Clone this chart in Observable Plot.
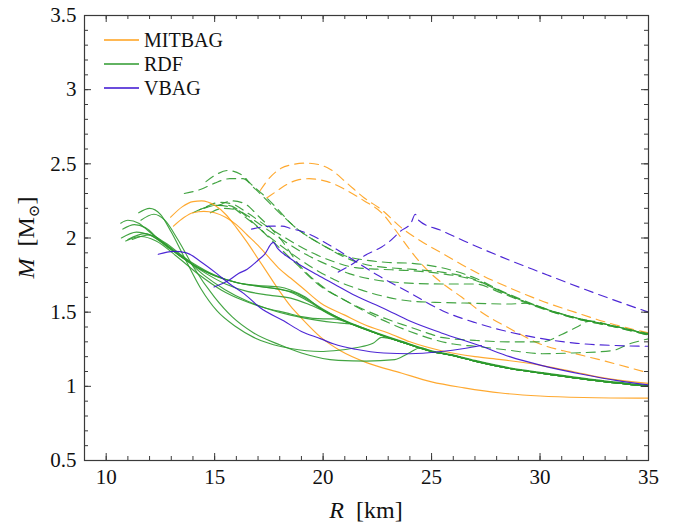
<!DOCTYPE html>
<html><head><meta charset="utf-8">
<script src="https://cdn.jsdelivr.net/npm/d3@7"></script>
<script src="https://cdn.jsdelivr.net/npm/@observablehq/plot@0.6"></script>
<style>
body{margin:0;background:#fff}
#chart{width:687px;height:524px}
#chart svg, #chart svg text, #chart svg g{font-family:"Liberation Serif","Times New Roman",Tinos,"Nimbus Roman","DejaVu Serif",serif !important}
</style>
</head><body><div id="chart"></div>
<script>
// ---------- data ([R km, M Msun]) ----------
const families = ["MITBAG", "RDF", "VBAG"];
const familyColors = ["#ffa01a", "#2e9a2e", "#3a10d0"];
const xMajorTicks = [10, 15, 20, 25, 30, 35];
const yMajorTicks = [0.5, 1, 1.5, 2, 2.5, 3, 3.5];
const xMinorTicks = [9,10,11,12,13,14,15,16,17,18,19,20,21,22,23,24,25,26,27,28,29,30,31,32,33,34,35];
const yMinorTicks = [0.5,0.6,0.7,0.8,0.9,1,1.1,1.2,1.3,1.4,1.5,1.6,1.7,1.8,1.9,2,2.1,2.2,2.3,2.4,2.5,2.6,2.7,2.8,2.9,3,3.1,3.2,3.3,3.4,3.5];

// MITBAG
const mitSolidA = [[12.97,2.14],[13.5,2.21],[14.0,2.245],[14.4,2.25],[15,2.22],[15.5,2.16],[16,2.07],[16.5,1.97],[17,1.86],[17.5,1.75],[18,1.64],[18.5,1.54],[19,1.46],[19.9,1.33],[20.8,1.24],[22,1.16],[23.6,1.09],[25,1.03],[26.5,0.99],[28.2,0.955],[30,0.935],[32,0.925],[35,0.92]];
const mitSolidB = [[13.1,2.08],[13.6,2.14],[14.0,2.17],[14.5,2.18],[15,2.17],[15.5,2.14],[16,2.09],[16.5,2.02],[17,1.95],[17.5,1.87],[18,1.79],[18.5,1.73],[19,1.67],[19.9,1.56],[21,1.48],[22,1.41],[23,1.36],[24,1.30],[25.45,1.24],[27,1.20],[28.2,1.18],[30.1,1.14],[31.5,1.10],[32.8,1.06],[35,1.02]];
const mitDashA = [[17.1,2.32],[17.5,2.40],[18.06,2.47],[18.6,2.495],[19.2,2.505],[19.8,2.495],[20.36,2.46],[21.1,2.37],[21.9,2.27],[22.7,2.19],[23.6,2.07],[24.5,1.98],[25.45,1.90],[26.4,1.82],[27.3,1.75],[28.5,1.67],[30,1.58],[31.6,1.50],[33.1,1.43],[35,1.36]];
const mitDashB = [[17.4,2.27],[17.9,2.32],[18.2,2.35],[18.8,2.39],[19.35,2.40],[20.2,2.38],[21.1,2.32],[21.9,2.25],[22.7,2.17],[23.3,2.06],[23.9,1.94],[24.5,1.83],[24.97,1.76],[25.45,1.70],[26.4,1.60],[27.3,1.50],[28.6,1.39],[30.1,1.28],[31.5,1.225],[33,1.17],[35,1.09]];

// RDF solid
const rdfSolid1 = [[11.5,2.17],[12.0,2.20],[12.5,2.16],[13.0,2.04],[13.6,1.87],[14.36,1.66],[15.1,1.51],[16,1.40],[16.8,1.33],[17.5,1.29],[18.5,1.255],[19.9,1.235],[20.5,1.24],[21.5,1.26],[22.3,1.29],[22.7,1.33],[23.6,1.30],[25,1.235],[25.9,1.21],[27,1.17],[28.6,1.12],[30,1.09],[32.5,1.04],[35,1.00]];
const rdfSolid2 = [[11.6,2.12],[12.2,2.16],[12.7,2.12],[13.3,1.99],[14,1.81],[15,1.60],[15.8,1.47],[16.8,1.36],[18,1.28],[19,1.225],[20.7,1.175],[22,1.17],[23.3,1.18],[23.9,1.22],[24.5,1.26],[25,1.235],[25.9,1.21],[27,1.17],[28.6,1.12],[30,1.09],[32.5,1.04],[35,1.00]];
const rdfSolid3 = [[10.67,2.10],[11.0,2.12],[11.5,2.10],[12,2.04],[13,1.93],[14,1.83],[15,1.75],[16,1.70],[17,1.68],[18,1.67],[18.5,1.65],[19.2,1.60],[20,1.51],[21.3,1.42],[22.5,1.355],[23.6,1.30],[25,1.235],[25.9,1.21],[27,1.17],[28.6,1.12],[30,1.09],[32.5,1.04],[35,1.00]];
const rdfSolid4 = [[10.77,2.06],[11.3,2.09],[11.8,2.07],[12.5,1.98],[13.5,1.87],[14.5,1.78],[15.5,1.72],[16.5,1.685],[17.5,1.665],[18.5,1.635],[19.3,1.575],[20,1.515],[21.3,1.425],[22.5,1.36],[23.6,1.305],[25,1.24],[25.9,1.215],[27,1.175],[28.6,1.125],[30,1.095],[32.5,1.045],[35,1.005]];
const rdfSolid5 = [[10.7,2.0],[11.4,2.04],[12,2.02],[13,1.92],[14,1.82],[15,1.745],[16,1.70],[17,1.675],[18,1.655],[18.8,1.625],[19.5,1.565],[20,1.52],[21.3,1.42],[22.5,1.355],[23.6,1.30],[25,1.235],[25.9,1.21],[27,1.17],[28.6,1.12],[30,1.09],[32.5,1.04],[35,1.00]];
const rdfSolid6 = [[11.0,1.99],[11.8,2.03],[12.5,1.98],[13.5,1.87],[14.5,1.77],[15.5,1.69],[16.5,1.64],[17.5,1.615],[18.5,1.595],[19.3,1.555],[20,1.51],[21.3,1.42],[22.5,1.355],[23.6,1.30],[25,1.235],[25.9,1.21],[27,1.17],[28.6,1.12],[30,1.09],[32.5,1.04],[35,1.00]];
const rdfSolid7 = [[11.2,1.99],[12.0,2.02],[12.7,1.97],[13.5,1.88],[14.5,1.75],[15.5,1.65],[16.5,1.575],[17.5,1.52],[18.5,1.48],[19.75,1.445],[20.5,1.43],[21.3,1.42],[22.5,1.355],[23.6,1.30],[25,1.235],[25.9,1.21],[27,1.17],[28.6,1.12],[30,1.09],[32.5,1.04],[35,1.00]];
const rdfSolid8 = [[10.9,1.98],[11.6,2.01],[12.3,1.98],[13.3,1.87],[14.3,1.75],[15.3,1.65],[16.3,1.58],[17.3,1.53],[18.3,1.495],[19,1.47],[20,1.455],[20.5,1.455],[21.3,1.42],[22.5,1.355],[23.6,1.30],[25,1.235],[25.9,1.21],[27,1.17],[28.6,1.12],[30,1.09],[32.5,1.04],[35,1.00]];

// RDF dashed
const rdfDash1 = [[14.6,2.38],[15.1,2.43],[15.6,2.455],[16.2,2.43],[16.7,2.36],[17.4,2.27],[18,2.18],[18.5,2.10],[19.2,2.02],[20,1.95],[21,1.88],[22,1.85],[23,1.835],[24,1.83],[25.45,1.80],[27,1.73],[28.2,1.645],[29.4,1.57],[30.5,1.51],[31.7,1.46],[33.3,1.41],[35,1.355]];
const rdfDash2 = [[13.6,2.30],[14.4,2.33],[15.0,2.37],[15.7,2.40],[16.3,2.40],[16.8,2.34],[17.5,2.24],[18.2,2.14],[19,2.04],[20,1.95],[21,1.87],[22,1.82],[23,1.80],[24,1.79],[25.45,1.77],[27,1.72],[28.2,1.64],[29.4,1.565],[30.5,1.51],[31.7,1.46],[33.3,1.41],[35,1.35]];
const rdfDash3 = [[14.0,2.17],[14.6,2.21],[15.2,2.24],[15.8,2.23],[16.5,2.17],[17.5,2.07],[18.5,1.98],[19.5,1.90],[20.5,1.84],[21.5,1.80],[22.5,1.79],[24,1.78],[25.45,1.76],[27,1.715],[28.2,1.64],[29.4,1.565],[30.5,1.51],[31.7,1.46],[33.3,1.41],[35,1.35]];
const rdfDash4 = [[14.3,2.19],[15.0,2.22],[15.6,2.22],[16.3,2.17],[17.2,2.08],[18.2,1.98],[19.2,1.89],[20.2,1.82],[21.2,1.76],[22.3,1.72],[23.5,1.70],[25.45,1.69],[27,1.69],[28.2,1.63],[29.4,1.56],[30.5,1.505],[31.7,1.455],[33.3,1.405],[35,1.345]];
const rdfDash5 = [[14.5,2.20],[15.1,2.22],[15.7,2.21],[16.5,2.13],[17.5,2.01],[18.5,1.90],[19.5,1.80],[20.5,1.72],[21.75,1.65],[23,1.60],[24,1.575],[25.45,1.565],[27,1.56],[28.5,1.555],[29.4,1.56],[30.5,1.505],[31.7,1.455],[33.3,1.405],[35,1.345]];
const rdfDash6 = [[15.2,2.22],[15.8,2.25],[16.4,2.23],[17,2.15],[18,2.00],[19,1.80],[20,1.67],[21,1.58],[22,1.51],[23,1.45],[24,1.40],[25,1.35],[25.45,1.33],[27,1.31],[28.5,1.30],[30.1,1.30],[31,1.35],[31.7,1.40],[32.3,1.44],[33.3,1.41],[35,1.35]];
const rdfDash7 = [[14.8,2.17],[15.4,2.20],[16,2.19],[16.8,2.10],[17.8,1.96],[18.8,1.82],[19.75,1.69],[21,1.58],[22,1.50],[23,1.43],[24,1.37],[25,1.32],[26,1.285],[27,1.27],[28.5,1.245],[30.1,1.22],[31.5,1.225],[33.3,1.24],[34.2,1.29],[35,1.32]];

// VBAG
const vbagSolidA = [[12.4,1.89],[13.1,1.91],[13.7,1.90],[14.36,1.84],[15.1,1.76],[15.7,1.69],[16.35,1.625],[17.1,1.53],[18.2,1.44],[19,1.37],[19.9,1.32],[20.5,1.285],[21.5,1.25],[22.8,1.225],[24,1.22],[25.45,1.235],[26.5,1.255],[27.3,1.275]];
const vbagSolidB = [[14.97,1.67],[15.6,1.71],[16.1,1.76],[16.5,1.79],[17.0,1.85],[17.3,1.89],[17.7,1.97],[17.9,1.93],[18.5,1.86],[19.75,1.75],[20.5,1.69],[21.5,1.61],[22.8,1.525],[24,1.44],[25.45,1.36],[27.3,1.27],[28.6,1.20],[30.1,1.14],[32,1.08],[33.5,1.04],[35,1.01]];
const vbagDashA = [[20.7,1.77],[21.3,1.82],[21.9,1.88],[22.7,1.94],[23.0,1.97],[23.6,2.05],[24.05,2.10],[24.25,2.16],[24.4,2.12],[25.45,2.05],[26.5,1.98],[28.6,1.85],[30,1.77],[32.5,1.63],[35,1.50]];
const vbagDashB = [[16.7,2.06],[17.6,2.08],[18.1,2.08],[18.5,2.065],[19.3,2.03],[20.2,1.96],[21.2,1.87],[22.5,1.75],[24,1.63],[25.5,1.51],[27,1.43],[28.2,1.38],[29.4,1.34],[31.7,1.29],[33.5,1.275],[35,1.27]];

// ---------- build table ----------
const curves = [
  ["mitSolidA","MITBAG","solid",mitSolidA],["mitSolidB","MITBAG","solid",mitSolidB],
  ["mitDashA","MITBAG","dash",mitDashA],["mitDashB","MITBAG","dash",mitDashB],
  ["rdfSolid1","RDF","solid",rdfSolid1],["rdfSolid2","RDF","solid",rdfSolid2],["rdfSolid3","RDF","solid",rdfSolid3],
  ["rdfSolid4","RDF","solid",rdfSolid4],["rdfSolid5","RDF","solid",rdfSolid5],["rdfSolid6","RDF","solid",rdfSolid6],
  ["rdfSolid7","RDF","solid",rdfSolid7],["rdfSolid8","RDF","solid",rdfSolid8],
  ["rdfDash1","RDF","dash",rdfDash1],["rdfDash2","RDF","dash",rdfDash2],["rdfDash3","RDF","dash",rdfDash3],
  ["rdfDash4","RDF","dash",rdfDash4],["rdfDash5","RDF","dash",rdfDash5],["rdfDash6","RDF","dash",rdfDash6],["rdfDash7","RDF","dash",rdfDash7],
  ["vbagSolidA","VBAG","solid",vbagSolidA],["vbagSolidB","VBAG","solid",vbagSolidB],
  ["vbagDashA","VBAG","dash",vbagDashA],["vbagDashB","VBAG","dash",vbagDashB]
];
const rows = [];
for (const [id, fam, style, pts] of curves) for (const [R, M] of pts) rows.push({id, fam, style, R, M});
const solidRows = rows.filter(d => d.style === "solid");
const dashRows = rows.filter(d => d.style === "dash");

const W = 687, H = 524, mL = 84, mR = 39, mT = 15, mB = 64;
const pw = W - mL - mR, ph = H - mT - mB;
const font = "Liberation Serif, Times New Roman, serif";
const frameColor = "#3a3a3a";

const lineOpts = (extra) => ({x: "R", y: "M", z: "id", stroke: "fam", strokeWidth: 1.15, curve: "monotone-x", ...extra});

const chart = Plot.plot({
  width: W, height: H,
  marginLeft: mL, marginRight: mR, marginTop: mT, marginBottom: mB,
  style: {background: "#fff", fontFamily: font},
  x: {domain: [9, 35]},
  y: {domain: [0.5, 3.5]},
  color: {domain: families, range: familyColors},
  marks: [
    Plot.line(dashRows, lineOpts({strokeDasharray: "9,6", strokeOpacity: 0.9})),
    Plot.line(solidRows, lineOpts({strokeOpacity: 0.9})),
    // inward ticks on all four sides
    Plot.tickX(xMinorTicks, {x: d => d, stroke: frameColor, insetTop: ph - 4}),
    Plot.tickX(xMinorTicks, {x: d => d, stroke: frameColor, insetBottom: ph - 4}),
    Plot.tickX(xMajorTicks, {x: d => d, stroke: frameColor, insetTop: ph - 7}),
    Plot.tickX(xMajorTicks, {x: d => d, stroke: frameColor, insetBottom: ph - 7}),
    Plot.tickY(yMinorTicks, {y: d => d, stroke: frameColor, insetRight: pw - 4}),
    Plot.tickY(yMinorTicks, {y: d => d, stroke: frameColor, insetLeft: pw - 4}),
    Plot.tickY(yMajorTicks, {y: d => d, stroke: frameColor, insetRight: pw - 7}),
    Plot.tickY(yMajorTicks, {y: d => d, stroke: frameColor, insetLeft: pw - 7}),
    Plot.frame({stroke: frameColor, strokeWidth: 1.2}),
    Plot.axisX({ticks: xMajorTicks, tickSize: 0, tickPadding: 9, fontSize: 21, fontFamily: font, label: null, tickFormat: d => String(d), fill: "#111"}),
    Plot.axisY({ticks: yMajorTicks, tickSize: 0, tickPadding: 8, fontSize: 21, fontFamily: font, label: null, tickFormat: d => String(d), fill: "#111"})
  ]
});
document.getElementById("chart").appendChild(chart);

// axis titles and legend
const svg = d3.select(chart);
const xt = svg.append("text").attr("x", mL + pw / 2).attr("y", 518).attr("text-anchor", "middle")
  .attr("font-size", 24).attr("fill", "#111");
xt.append("tspan").attr("font-style", "italic").text("R");
xt.append("tspan").text("\u2002[km]");
const yt = svg.append("text").attr("transform", `translate(34,${mT + ph / 2}) rotate(-90)`).attr("text-anchor", "middle")
  .attr("font-size", 24).attr("fill", "#111");
yt.append("tspan").attr("font-style", "italic").text("M");
yt.append("tspan").text("\u2002[M");
yt.append("tspan").attr("font-size", 15).attr("dy", 5).text("\u2299");
yt.append("tspan").attr("dy", -5).text("]");

families.forEach((f, i) => {
  const y = 40 + i * 24;
  svg.append("line").attr("x1", 104).attr("x2", 139).attr("y1", y).attr("y2", y)
    .attr("stroke", familyColors[i]).attr("stroke-width", 1.3);
  svg.append("text").attr("x", 144).attr("y", y + 7).attr("text-anchor", "start").attr("font-size", 20)
    .attr("fill", "#111").text(f);
});
</script>
</body></html>
